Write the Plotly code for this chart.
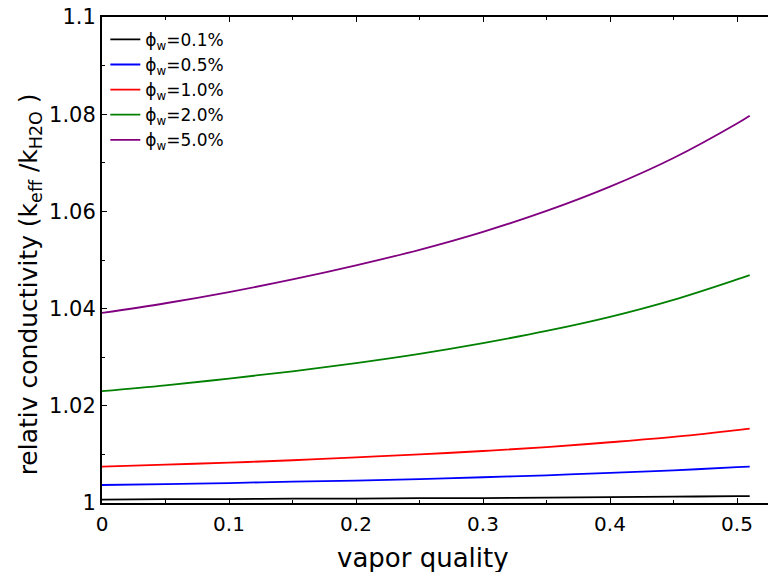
import plotly.graph_objects as go

x_quality = [0, 0.05, 0.1, 0.15, 0.2, 0.25, 0.3, 0.35, 0.4, 0.45, 0.5, 0.51]

k_01 = [1.0007, 1.0008, 1.0008, 1.0009, 1.0009, 1.0010, 1.0010, 1.0011, 1.0012, 1.0013, 1.0014, 1.0014]
k_05 = [1.0037, 1.0039, 1.0041, 1.0044, 1.0046, 1.0049, 1.0053, 1.0057, 1.0062, 1.0067, 1.0074, 1.0075]
k_10 = [1.0075, 1.0079, 1.0083, 1.0088, 1.0094, 1.0100, 1.0107, 1.0115, 1.0125, 1.0136, 1.0150, 1.0153]
k_20 = [1.0230, 1.0242, 1.0256, 1.0271, 1.0288, 1.0307, 1.0329, 1.0354, 1.0383, 1.0418, 1.0460, 1.0469]
k_50 = [1.0391, 1.0411, 1.0434, 1.0460, 1.0489, 1.0521, 1.0558, 1.0601, 1.0651, 1.0710, 1.0781, 1.0797]

series_names = ["ϕ<sub>w</sub>=0.1%", "ϕ<sub>w</sub>=0.5%", "ϕ<sub>w</sub>=1.0%",
                "ϕ<sub>w</sub>=2.0%", "ϕ<sub>w</sub>=5.0%"]
series_values = [k_01, k_05, k_10, k_20, k_50]
series_colors = ["#000000", "#0000ff", "#ff0000", "#008000", "#800080"]

x_ticks = [0, 0.1, 0.2, 0.3, 0.4, 0.5]
y_ticks = [1, 1.02, 1.04, 1.06, 1.08, 1.1]

x_title = "vapor quality"
y_title = "relativ conductivity (k<sub>eff</sub> /k<sub>H2O</sub> )"

FONT = "DejaVu Sans, Arial, sans-serif"

fig = go.Figure()
for name, vals, col in zip(series_names, series_values, series_colors):
    fig.add_trace(go.Scatter(x=x_quality, y=vals, mode="lines", name=name,
                             line=dict(color=col, width=1.8, shape="spline", smoothing=1.0)))

fig.update_layout(
    width=768, height=572,
    paper_bgcolor="white", plot_bgcolor="white",
    margin=dict(l=102, r=0, t=17, b=69, autoexpand=False),
    font=dict(family=FONT, color="black"),
    showlegend=True,
    legend=dict(x=0.005, y=0.99, xanchor="left", yanchor="top",
                bgcolor="rgba(0,0,0,0)", borderwidth=0,
                font=dict(family=FONT, size=17, color="black"),
                tracegroupgap=0),
    annotations=[
        dict(text=x_title, xref="paper", yref="paper", x=0.482, y=-0.113,
             xanchor="center", yanchor="middle", showarrow=False,
             font=dict(family=FONT, size=26, color="black")),
        dict(text=y_title, xref="paper", yref="paper", x=-0.108, y=0.45,
             xanchor="center", yanchor="middle", showarrow=False, textangle=-90,
             font=dict(family=FONT, size=25, color="black")),
    ],
)

fig.update_xaxes(
    range=[0, 0.5244], tickvals=x_ticks, ticktext=[f"{v:g}" for v in x_ticks],
    ticks="inside", ticklen=5, tickwidth=1, tickcolor="black",
    minor=dict(dtick=0.05, tick0=0, ticks="inside", ticklen=3, tickcolor="black"),
    showline=True, linewidth=2, linecolor="black", mirror="ticks",
    showgrid=False, zeroline=False, automargin=False,
    ticklabeloverflow="allow", ticklabelstandoff=2,
    tickfont=dict(size=20),
)

fig.update_yaxes(
    range=[1, 1.1], tickvals=y_ticks, ticktext=[f"{v:g}" for v in y_ticks],
    ticks="inside", ticklen=5, tickwidth=1, tickcolor="black",
    minor=dict(dtick=0.01, tick0=1, ticks="inside", ticklen=3, tickcolor="black"),
    showline=True, linewidth=2, linecolor="black",
    showgrid=False, zeroline=False, automargin=False,
    ticklabeloverflow="allow",
    tickfont=dict(size=21),
)

fig.write_html("out.html",
               config={"displayModeBar": False},
               post_script="document.body.style.margin='0';document.body.style.overflow='hidden';")
